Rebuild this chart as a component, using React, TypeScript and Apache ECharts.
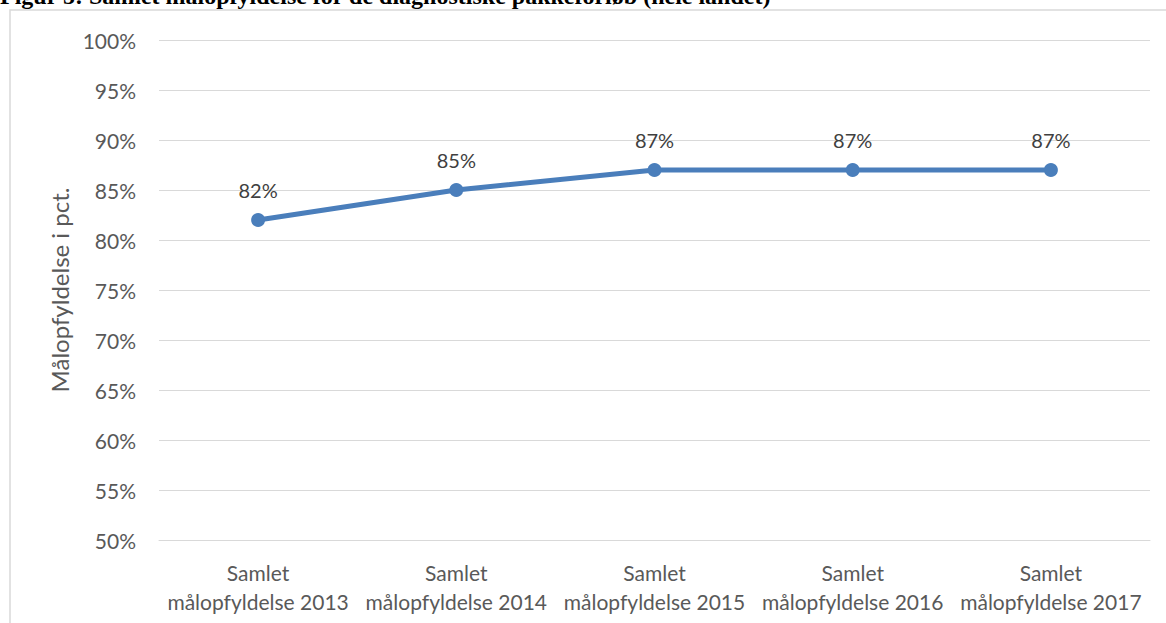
import React, { useEffect, useRef } from "react";
import * as echarts from "echarts";

const categories = [
  "Samlet\nmålopfyldelse 2013",
  "Samlet\nmålopfyldelse 2014",
  "Samlet\nmålopfyldelse 2015",
  "Samlet\nmålopfyldelse 2016",
  "Samlet\nmålopfyldelse 2017",
];
const values = [82, 85, 87, 87, 87];
const title = "Figur 5: Samlet målopfyldelse for de diagnostiske pakkeforløb (hele landet)";
const yAxisName = "Målopfyldelse i pct.";

export default function App() {
  const ref = useRef<HTMLDivElement>(null);
  useEffect(() => {
    if (!ref.current) return;
    const chart = echarts.init(ref.current, null, { renderer: "svg" });
    const font = "Lato, 'Open Sans', sans-serif";
    chart.setOption({
      animation: false,
      backgroundColor: "#ffffff",
      textStyle: { fontFamily: font },
      graphic: [
        {
          type: "rect",
          shape: { x: 10, y: 10, width: 1170, height: 620 },
          style: { fill: "none", stroke: "#d9d9d9", lineWidth: 1.5 },
          z: -1,
        },
        {
          type: "text",
          x: 0,
          y: 8,
          style: {
            text: title,
            font: "bold 24px 'Liberation Serif', 'Times New Roman', serif",
            fill: "#000000",
            textVerticalAlign: "bottom",
            textBaseline: "alphabetic",
          },
        },
      ],
      grid: { left: 159, right: 16, top: 40, bottom: 83, containLabel: false },
      xAxis: {
        type: "category",
        data: categories,
        axisLine: { show: true, lineStyle: { color: "#d9d9d9", width: 1 } },
        axisTick: { show: false },
        axisLabel: {
          color: "#595959",
          fontSize: 21,
          fontFamily: font,
          lineHeight: 29,
          margin: 18,
          interval: 0,
        },
      },
      yAxis: {
        type: "value",
        min: 50,
        max: 100,
        interval: 5,
        name: yAxisName,
        nameLocation: "middle",
        nameGap: 86,
        nameTextStyle: { color: "#595959", fontSize: 24, fontFamily: font },
        axisLine: { show: false },
        axisTick: { show: false },
        splitLine: { lineStyle: { color: "#d9d9d9", width: 1 } },
        axisLabel: {
          color: "#595959",
          fontSize: 21,
          fontFamily: font,
          margin: 23,
          formatter: (v: number) => v + "%",
        },
      },
      series: [
        {
          type: "line",
          data: values,
          symbol: "circle",
          symbolSize: 14,
          lineStyle: { color: "#4a7ebb", width: 5 },
          itemStyle: { color: "#4a7ebb" },
          label: {
            show: true,
            position: "top",
            distance: 13,
            color: "#404040",
            fontSize: 20,
            fontFamily: font,
            formatter: (p: any) => p.value + "%",
          },
        },
      ],
    });
    return () => chart.dispose();
  }, []);
  return (
    <div
      ref={ref}
      style={{ position: "fixed", left: 0, top: 0, width: 1166, height: 623 }}
    />
  );
}
